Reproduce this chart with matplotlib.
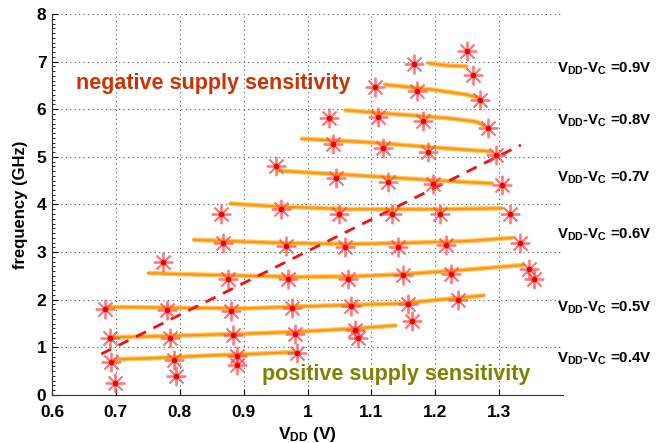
import numpy as np
import matplotlib
matplotlib.use("Agg")
import matplotlib.pyplot as plt

plt.rcParams['font.family'] = ['Liberation Sans', 'DejaVu Sans']
plt.rcParams['font.weight'] = 'bold'
plt.rcParams['mathtext.fontset'] = 'custom'
plt.rcParams['mathtext.rm'] = 'Liberation Sans:bold'
plt.rcParams['mathtext.bf'] = 'Liberation Sans:bold'
plt.rcParams['mathtext.it'] = 'Liberation Sans:bold'
plt.rcParams['mathtext.default'] = 'bf'

# 模擬曲線 (VDD-VC = 0.40 ... 0.90 V, 步進 0.05 V)
sim_x = [
    [0.692, 0.700, 0.753, 0.831, 0.909, 0.980],
    [0.688, 0.753, 0.909, 0.988, 1.066, 1.139],
    [0.685, 0.800, 0.909, 0.988, 1.066, 1.144, 1.277],
    [0.750, 0.850, 0.988, 1.066, 1.144, 1.248, 1.339],
    [0.821, 0.961, 1.066, 1.144, 1.248, 1.321],
    [0.878, 0.950, 1.066, 1.200, 1.305],
    [0.954, 1.014, 1.092, 1.196, 1.290],
    [0.990, 1.092, 1.196, 1.290],
    [1.058, 1.144, 1.222, 1.264, 1.277],
    [1.120, 1.196, 1.248, 1.269],
    [1.188, 1.217, 1.250],
]
sim_y = [
    [0.68, 0.75, 0.77, 0.82, 0.86, 0.90],
    [1.21, 1.23, 1.29, 1.33, 1.39, 1.46],
    [1.85, 1.83, 1.82, 1.86, 1.89, 1.92, 2.09],
    [2.56, 2.52, 2.48, 2.49, 2.53, 2.63, 2.73],
    [3.26, 3.19, 3.17, 3.19, 3.23, 3.30],
    [4.02, 3.96, 3.90, 3.90, 3.92],
    [4.71, 4.66, 4.60, 4.51, 4.44],
    [5.38, 5.31, 5.20, 5.11],
    [5.98, 5.89, 5.81, 5.74, 5.65],
    [6.52, 6.41, 6.31, 6.24],
    [6.97, 6.92, 6.90],
]

# 量測點
meas_x = [0.692, 0.791, 0.889, 0.983, 0.698, 0.794, 0.889,
          0.691, 0.784, 0.883, 0.980, 1.075, 1.079,
          0.683, 0.780, 0.880, 0.976, 1.068, 1.157, 1.236, 1.163,
          0.774, 0.875, 0.969, 1.063, 1.149, 1.225, 1.346, 1.355,
          0.868, 0.966, 1.058, 1.141, 1.217, 1.333,
          0.865, 0.958, 1.050, 1.133, 1.207, 1.317,
          0.951, 1.045, 1.126, 1.197, 1.305,
          1.040, 1.118, 1.188, 1.295,
          1.033, 1.110, 1.180, 1.282,
          1.106, 1.171, 1.270,
          1.166, 1.259, 1.250]
meas_y = [0.70, 0.73, 0.82, 0.88, 0.26, 0.40, 0.63,
          1.20, 1.20, 1.26, 1.29, 1.37, 1.19,
          1.81, 1.78, 1.76, 1.83, 1.86, 1.90, 1.99, 1.55,
          2.80, 2.44, 2.44, 2.44, 2.51, 2.55, 2.64, 2.44,
          3.19, 3.12, 3.10, 3.10, 3.15, 3.19,
          3.81, 3.91, 3.81, 3.81, 3.79, 3.79,
          4.81, 4.55, 4.48, 4.43, 4.41,
          5.27, 5.19, 5.11, 5.04,
          5.82, 5.84, 5.75, 5.61,
          6.46, 6.38, 6.19,
          6.94, 6.72, 7.23]

trend_x = [0.677, 1.334]
trend_y = [0.86, 5.25]

label_vals = ['0.4', '0.5', '0.6', '0.7', '0.8', '0.9']
label_y = [0.77, 1.84, 3.37, 4.56, 5.75, 6.84]

fig = plt.figure(figsize=(6.64, 4.43), dpi=100)
ax = fig.add_axes([0.0783, 0.1084, 0.7697, 0.8600])

for xs, ys in zip(sim_x, sim_y):
    ax.plot(xs, ys, color='#ffc470', lw=3.4, solid_capstyle='butt', zorder=2)
    ax.plot(xs, ys, color='#ff9900', lw=1.6, zorder=3)

ax.plot(trend_x, trend_y, color='#ee1111', lw=2.0, ls=(0, (4, 3)), zorder=4)

ax.plot(meas_x, meas_y, ls='none', marker=(8, 2, 0), ms=14, mew=1.3,
        color='#ff4d4d', alpha=0.75, zorder=5)
ax.plot(meas_x, meas_y, ls='none', marker='o', ms=3, color='#ee0000', zorder=6)

ax.text(0.6375, 6.55, 'negative supply sensitivity', color='#cc3300',
        fontsize=15.5, fontweight='bold', va='center', ha='left')
ax.text(0.928, 0.42, 'positive supply sensitivity', color='#808000',
        fontsize=15.5, fontweight='bold', va='center', ha='left')

for v, yy in zip(label_vals, label_y):
    ax.text(1.39, yy, r'$V_{DD}$-$V_C$ =' + v + 'V', fontsize=10.8,
            fontweight='bold', va='center', ha='left', clip_on=False)

ax.set_xlim(0.6, 1.4)
ax.set_ylim(0, 8)
ax.set_xticks([0.6, 0.7, 0.8, 0.9, 1.0, 1.1, 1.2, 1.3])
ax.set_xticklabels(['0.6', '0.7', '0.8', '0.9', '1', '1.1', '1.2', '1.3'])
ax.set_yticks(range(9))
ax.set_yticks(np.arange(0, 8.01, 0.1), minor=True)
ax.tick_params(axis='both', which='major', direction='in', length=4,
               labelsize=12.5)
ax.tick_params(axis='x', which='major', pad=7)
ax.tick_params(axis='y', which='major', pad=4)
ax.tick_params(axis='y', which='minor', direction='in', length=2)
for lbl in ax.get_xticklabels() + ax.get_yticklabels():
    lbl.set_fontweight('bold')

ax.grid(True, which='major', color='#555555', ls=(0, (1, 3)), lw=0.8)
ax.spines['top'].set_visible(False)
ax.spines['right'].set_visible(False)
ax.spines['left'].set_color('#333333')
ax.spines['bottom'].set_color('#333333')

ax.set_xlabel(r'$V_{DD}$ (V)', fontsize=12.5, fontweight='bold', labelpad=4)
ax.set_ylabel('frequency (GHz)', fontsize=12, fontweight='bold', labelpad=6)

fig.savefig('out.png', dpi=100)
